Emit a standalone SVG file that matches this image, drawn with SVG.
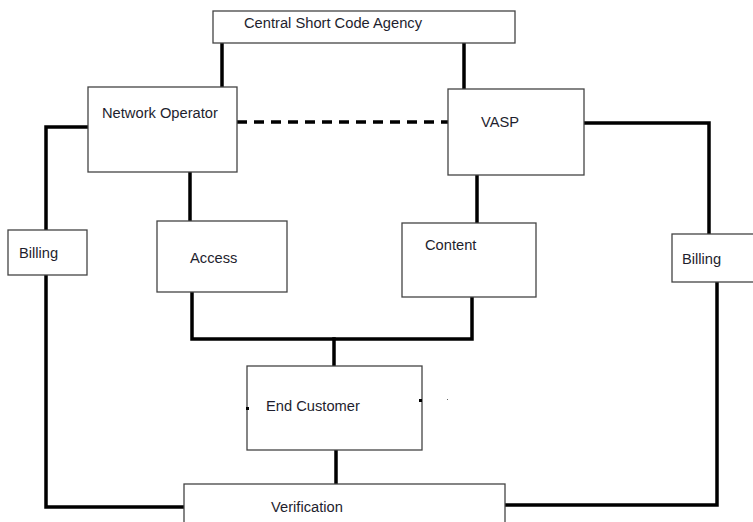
<svg xmlns="http://www.w3.org/2000/svg" width="753" height="522" viewBox="0 0 753 522">
<style>
.box{fill:#fff;stroke:#444;stroke-width:1.3}
.lbl{font-family:"Liberation Sans",Arial,sans-serif;font-size:14.7px;fill:#1e1e2e}
.c{fill:none;stroke:#000;stroke-width:3.5;stroke-linecap:square}
.d{stroke-dasharray:10 7;stroke-linecap:butt}
</style>
<rect width="753" height="522" fill="#fff"/>
<g id="connectors">
<path class="c" d="M222 43V87"/>
<path class="c" d="M464 43V89"/>
<path class="c d" d="M237 122H450"/>
<path class="c" d="M88 127H46V230"/>
<path class="c" d="M190 172V221"/>
<path class="c" d="M477 175V223"/>
<path class="c" d="M584 123H709V234"/>
<path class="c" d="M192 292V339H472V297"/>
<path class="c" d="M334 339V366"/>
<path class="c" d="M336 450V484"/>
<path class="c" d="M46 275V507H184"/>
<path class="c" d="M717 282V505H505"/>
</g>
<g id="central"><rect class="box" x="213" y="11" width="302" height="32"/><text class="lbl" x="244" y="28">Central Short Code Agency</text></g>
<g id="network-operator"><rect class="box" x="88" y="87" width="149" height="85"/><text class="lbl" x="102" y="118">Network Operator</text></g>
<g id="vasp"><rect class="box" x="448" y="89" width="136" height="86"/><text class="lbl" x="481" y="127">VASP</text></g>
<g id="billing-left"><rect class="box" x="8" y="230" width="79" height="45"/><text class="lbl" x="19" y="258">Billing</text></g>
<g id="access"><rect class="box" x="157" y="221" width="130" height="71"/><text class="lbl" x="190" y="263">Access</text></g>
<g id="content"><rect class="box" x="402" y="223" width="134" height="74"/><text class="lbl" x="425" y="250">Content</text></g>
<g id="billing-right"><rect class="box" x="672" y="234" width="82" height="48"/><text class="lbl" x="682" y="264">Billing</text></g>
<g id="end-customer"><rect class="box" x="247" y="366" width="175" height="84"/><text class="lbl" x="266" y="411">End Customer</text>
<rect x="246" y="407" width="3" height="3" fill="#000"/><rect x="419" y="399" width="3" height="3" fill="#000"/><rect x="447" y="399" width="1" height="1" fill="#666"/></g>
<g id="verification"><rect class="box" x="184" y="484" width="321" height="45"/><text class="lbl" x="271" y="512">Verification</text></g>
</svg>
